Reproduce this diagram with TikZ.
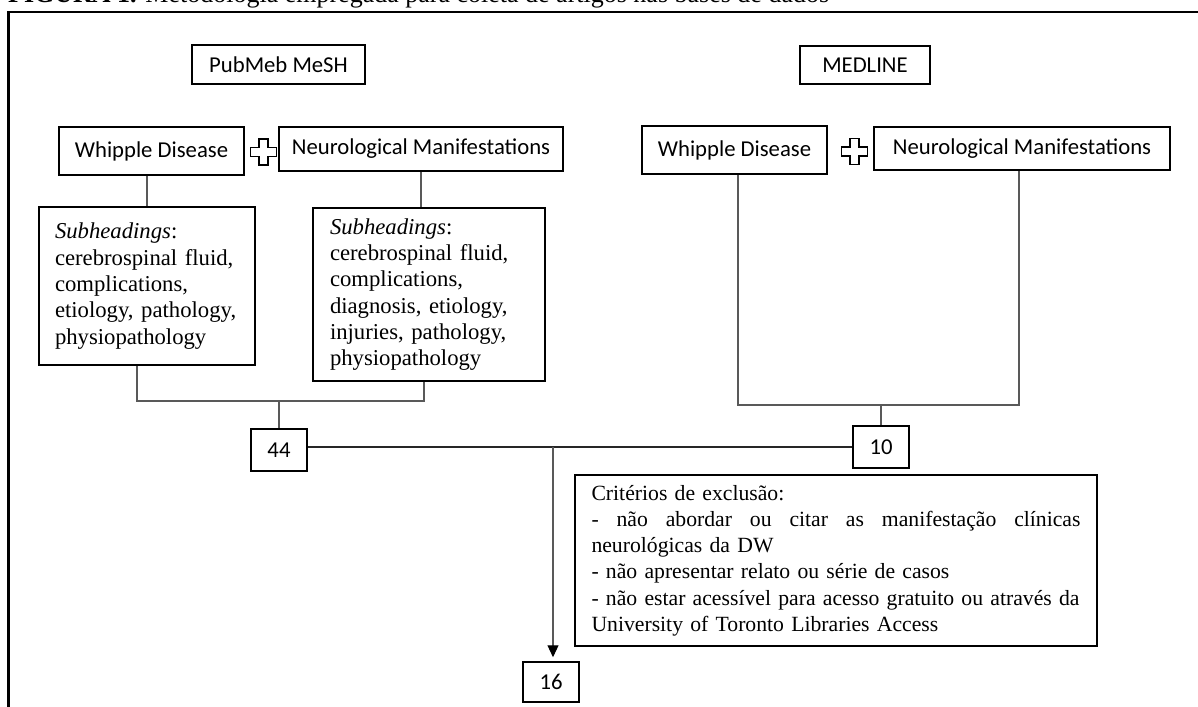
\documentclass[tikz,border=0pt]{standalone}
\usepackage{fontspec}
\setmainfont{Liberation Serif}
\newfontfamily\sansf{Carlito}
\usetikzlibrary{arrows.meta}
\begin{document}
\begin{tikzpicture}[x=1pt,y=-1pt,
  sbox/.style={draw=black,line width=1.5pt,font=\sansf\fontsize{22.7}{26}\selectfont,inner sep=0pt,align=center},
  tbox/.style={draw=black,line width=1.5pt,font=\fontsize{22.7}{26.3}\selectfont,align=left,inner xsep=16pt,inner ysep=0pt},
  conn/.style={draw=black!65,line width=1.1pt},
  plussign/.pic={\draw[line width=1.3pt,line join=miter,fill=white]
     (-4.5,-13) -- (4.5,-13) -- (4.5,-4.5) -- (13,-4.5) -- (13,4.5) -- (4.5,4.5) -- (4.5,13)
     -- (-4.5,13) -- (-4.5,4.5) -- (-13,4.5) -- (-13,-4.5) -- (-4.5,-4.5) -- cycle;}
]
\useasboundingbox (0,0) rectangle (1198,706);
% frame
\draw[line width=2.5pt,line join=miter] (1200,12) -- (8.5,12) -- (8.5,710);
% caption (partly cut at top, as in the reference)
\node[anchor=base west,inner sep=0pt,font=\fontsize{26}{30}\selectfont] (title) at (8,2.5)
  {\textbf{FIGURA 1.} Metodologia empregada para coleta de artigos nas bases de dados};

% headers
\node[sbox,minimum width=173pt,minimum height=39pt] (pub) at (278.5,64.5) {PubMeb MeSH};
\node[sbox,minimum width=130pt,minimum height=38pt] (med) at (865,65) {MEDLINE};

% search terms
\node[sbox,minimum width=185pt,minimum height=48pt] (wd1) at (151.5,151) {Whipple Disease};
\node[sbox,minimum width=284pt,minimum height=44pt] (nm1) at (421,149) {Neurological Manifestations};
\node[sbox,minimum width=185pt,minimum height=48pt] (wd2) at (734.5,150) {Whipple Disease};
\node[sbox,minimum width=296pt,minimum height=43pt] (nm2) at (1022,148.5) {Neurological Manifestations};
\pic at (263.5,152) {plussign};
\pic at (854.5,151.5) {plussign};

% subheadings
\node[tbox,text width=184pt,minimum height=158pt] (sh1) at (147,286)
  {\textit{Subheadings}:\\ cerebrospinal fluid,\\ complications,\\ etiology, pathology,\\ physiopathology};
\node[tbox,text width=198pt,inner xsep=17pt,minimum height=173pt] (sh2) at (429,294.5)
  {\textit{Subheadings}:\\ cerebrospinal fluid,\\ complications,\\ diagnosis, etiology,\\ injuries, pathology,\\ physiopathology};

% counts
\node[sbox,minimum width=56pt,minimum height=42pt] (n44) at (279,450) {44};
\node[sbox,minimum width=56pt,minimum height=42pt] (n10) at (881,447) {10};
\node[sbox,minimum width=56pt,minimum height=40pt] (n16) at (551,682) {16};

% exclusion criteria
\node[tbox,font=\fontsize{21.7}{26.2}\selectfont,text width=489pt,inner xsep=16.5pt,minimum height=171pt] (crit) at (836,560.5)
  {Critérios de exclusão:\\
   \makebox[489pt][l]{-\hfill não\hfill abordar\hfill ou\hfill citar\hfill as\hfill manifestação\hfill clínicas}\\
   neurológicas da DW\\
   - não apresentar relato ou série de casos\\
   - não estar acessível para acesso gratuito ou através da\\
   University of Toronto Libraries Access};

% connectors, PubMed side
\draw[conn] (sh1.north |- wd1.south) -- (sh1.north);
\draw[conn] (nm1.south) -- (nm1.south |- sh2.north);
\coordinate (j1) at (137,401);
\coordinate (j2) at (424,401);
\draw[conn] (sh1.south -| j1) -- (j1) -- (j2) -- (sh2.south -| j2);
\draw[conn] (n44.north |- j1) -- (n44.north);

% connectors, MEDLINE side
\coordinate (j3) at (738,405);
\coordinate (j4) at (1019,405);
\draw[conn] (wd2.south -| j3) -- (j3) -- (j4) -- (nm2.south -| j4);
\draw[conn] (n10.north |- j3) -- (n10.north);

% merge and result
\draw[conn,draw=black!85] (n44.east |- n10.west) -- (n10.west);
\coordinate (split) at (553,447);
\draw[conn,-{Triangle[length=12pt,width=11pt,color=black,fill=black]},shorten >=4pt] (split) -- (split |- n16.north);
\end{tikzpicture}
\end{document}
